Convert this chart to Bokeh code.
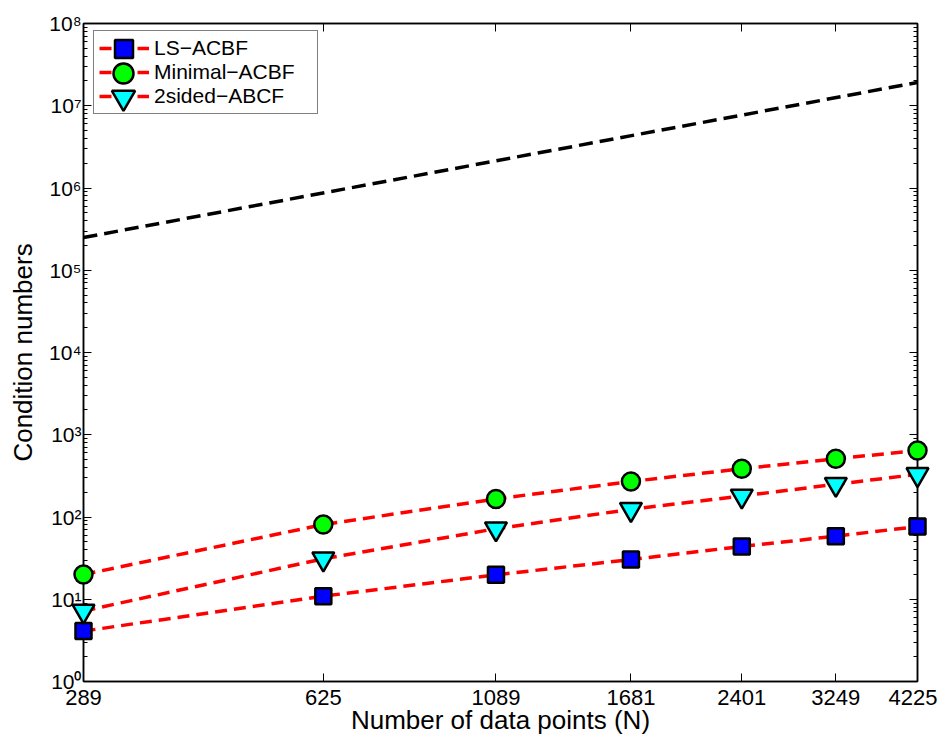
from bokeh.plotting import figure
from bokeh.models import (FixedTicker, LogAxis, CustomJSTickFormatter, Legend,
                          LegendItem, Range1d, ColumnDataSource)
from bokeh.embed import file_html
from bokeh.resources import INLINE

# ---- data ----
n_points = [289, 625, 1089, 1681, 2401, 3249, 4225]
ls_acbf = [4.1, 10.9, 19.8, 30.4, 43.8, 58.4, 76.6]
minimal_acbf = [20.0, 81.0, 166.0, 270.0, 386.0, 510.0, 643.0]
twosided_abcf = [7.2, 31.0, 72.0, 124.0, 180.0, 250.0, 330.0]
# reference (black dashed) line
ref_x = [289, 4225]
ref_y = [2.5e5, 1.92e7]
y_ticks = [1e0, 1e1, 1e2, 1e3, 1e4, 1e5, 1e6, 1e7, 1e8]
series_names = ["LS\u2212ACBF", "Minimal\u2212ACBF", "2sided\u2212ABCF"]

FONT = "Liberation Sans"

p = figure(width=937, height=745, x_axis_type="log", y_axis_type="log",
           x_range=Range1d(289, 4225), y_range=Range1d(1, 1e8),
           output_backend="svg", toolbar_location=None,
           min_border_left=83, min_border_right=20,
           min_border_top=23, min_border_bottom=64)
p.xgrid.visible = False
p.ygrid.visible = False
p.outline_line_color = "black"
p.outline_line_width = 1.5

y_minor = [m * t for t in y_ticks[:-1] for m in range(2, 10)]
x_ticker = FixedTicker(ticks=n_points, minor_ticks=[])
y_ticker = FixedTicker(ticks=y_ticks, minor_ticks=y_minor)

sup_js = """
const sup = ['\u2070','\u00b9','\u00b2','\u00b3','\u2074','\u2075','\u2076','\u2077','\u2078','\u2079'];
const e = Math.round(Math.log10(tick));
return '10' + sup[e];
"""
blank = CustomJSTickFormatter(code="return '';")


def style_axis(ax):
    ax.axis_line_width = 1.5
    ax.axis_line_color = "black"
    ax.major_tick_in = 8
    ax.major_tick_out = 0
    ax.minor_tick_in = 4
    ax.minor_tick_out = 0
    ax.major_tick_line_color = "black"
    ax.minor_tick_line_color = "black"
    ax.major_label_text_font = FONT
    ax.major_label_text_color = "black"
    ax.axis_label_text_font = FONT
    ax.axis_label_text_font_style = "normal"
    ax.axis_label_text_color = "black"


xa = p.xaxis[0]
xa.ticker = x_ticker
xa.formatter = CustomJSTickFormatter(code="return tick.toFixed(0);")
style_axis(xa)
xa.major_label_text_font_size = "22px"
xa.axis_label = "Number of data points (N)"
xa.axis_label_text_font_size = "26px"
xa.major_label_standoff = 8
xa.axis_label_standoff = -3

ya = p.yaxis[0]
ya.ticker = y_ticker
ya.formatter = CustomJSTickFormatter(code=sup_js)
style_axis(ya)
ya.major_label_text_font_size = "21px"
ya.axis_label = "Condition numbers"
ya.axis_label_text_font_size = "26px"
ya.major_label_standoff = 2
ya.axis_label_standoff = 8

top = LogAxis(ticker=x_ticker, formatter=blank)
style_axis(top)
right = LogAxis(ticker=y_ticker, formatter=blank)
style_axis(right)
p.add_layout(top, "above")
p.add_layout(right, "right")

series = [
    (ls_acbf, "square", "#0000ff", 16, 45),
    (minimal_acbf, "circle", "#00ff00", 18, 50),
    (twosided_abcf, "inverted_triangle", "#00ffff", 22, 58),
]

sources = [ColumnDataSource(dict(x=n_points, y=s[0])) for s in series]

line_renderers = []
for src in sources:
    r = p.line("x", "y", source=src, line_color="#ff0000", line_width=3.5,
               line_dash="12 7")
    line_renderers.append(r)

p.line(ref_x, ref_y, line_color="black", line_width=3.5, line_dash="14 7")

scatter_renderers = []
for src, (vals, marker, color, size, _) in zip(sources, series):
    sr = p.scatter("x", "y", source=src, marker=marker, size=size,
                   fill_color=color, line_color="black", line_width=2.5,
                   level="overlay")
    scatter_renderers.append(sr)

# main legend (frame, labels, red line stubs)
LEG_X, LEG_PAD, ROW, GW = 10, 5, 24, 50
frame_h = 658
leg_h = 2 * LEG_PAD + 3 * ROW
leg_top = 9
items = [LegendItem(label=name, renderers=[lr, sr])
         for name, lr, sr in zip(series_names, line_renderers, scatter_renderers)]
legend = Legend(items=items, location=(LEG_X, frame_h - leg_top - leg_h))
legend.glyph_height = ROW
legend.glyph_width = GW
legend.label_height = ROW
legend.label_width = 158
legend.spacing = 0
legend.padding = LEG_PAD
legend.margin = 0
legend.label_standoff = 5
legend.label_text_font = FONT
legend.label_text_font_size = "21px"
legend.label_text_color = "black"
legend.border_line_color = "black"
legend.border_line_width = 1.5
legend.background_fill_color = "white"
legend.background_fill_alpha = 1.0
p.add_layout(legend, "center")

# overlay legends: larger marker swatches, centred on the main legend rows
glyph_cx = LEG_X + LEG_PAD + GW / 2
for i, (sr, s) in enumerate(zip(scatter_renderers, series)):
    gh = s[4]
    row_cy = leg_top + LEG_PAD + ROW / 2 + i * ROW
    ov = Legend(items=[LegendItem(label="", renderers=[sr])],
                location=(int(round(glyph_cx - gh / 2)),
                          int(round(frame_h - (row_cy + gh / 2)))))
    ov.glyph_height = gh
    ov.glyph_width = gh
    ov.label_height = gh
    ov.label_width = 0
    ov.label_standoff = 0
    ov.padding = 0
    ov.margin = 0
    ov.spacing = 0
    ov.label_text_alpha = 0
    ov.label_text_font_size = "1px"
    ov.border_line_alpha = 0
    ov.background_fill_alpha = 0
    p.add_layout(ov, "center")

open("out.html", "w").write(file_html(p, INLINE))
